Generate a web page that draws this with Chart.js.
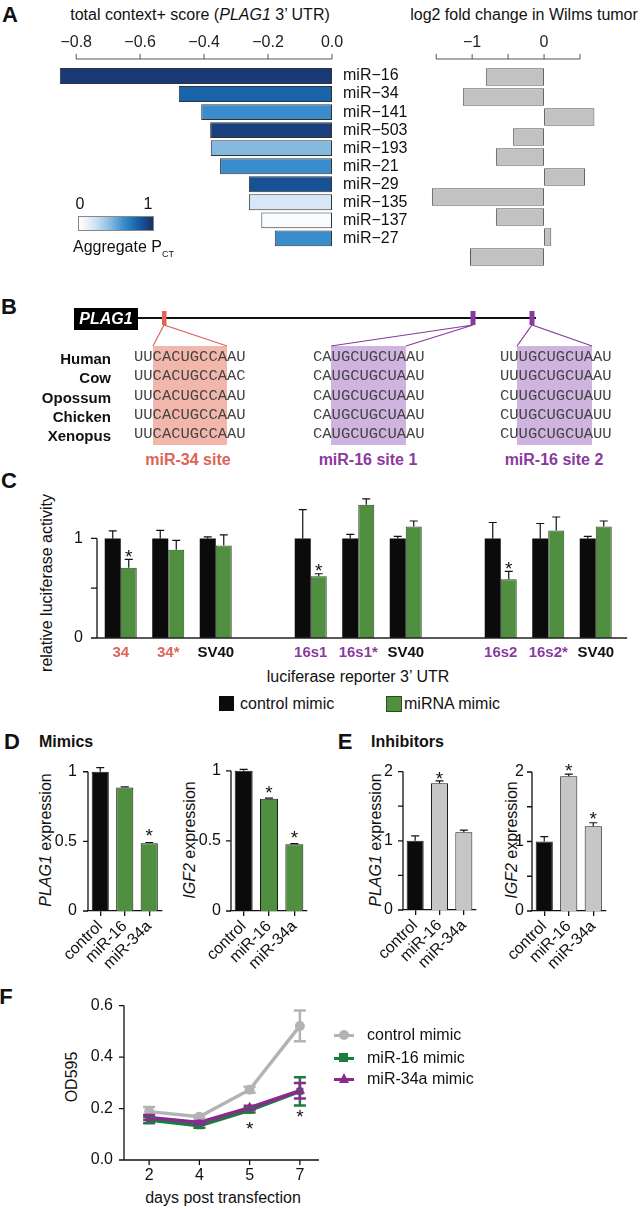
<!DOCTYPE html>
<html>
<head>
<meta charset="utf-8">
<script src="https://cdn.jsdelivr.net/npm/chart.js@4.4.1/dist/chart.umd.min.js"></script>
<style>
  body { margin: 0; background: #fff; }
  #page { position: relative; width: 644px; height: 1209px; overflow: hidden;
          font-family: 'Liberation Sans', Arial, Helvetica, sans-serif; color: #111; }
  #page canvas, #page .t, #page svg, #page .box { position: absolute; }
  .t { white-space: nowrap; line-height: 1; font-size: 16px; }
  .panel { font-size: 22px; font-weight: bold; }
  .b { font-weight: bold; }
  .seq { font-family: 'Liberation Mono', monospace; font-size: 15.5px; color: #444; }
</style>
</head>
<body>
<div id="page"></div>
<script>
// ---- data ----
const mirNames = ['miR\u221216', 'miR\u221234', 'miR\u2212141', 'miR\u2212503', 'miR\u2212193',
                  'miR\u221221', 'miR\u221229', 'miR\u2212135', 'miR\u2212137', 'miR\u221227'];
const contextScore = [-0.851, -0.479, -0.409, -0.381, -0.379, -0.350, -0.260, -0.260, -0.221, -0.179];
const aggregatePct = [0.95, 0.78, 0.60, 0.93, 0.425, 0.60, 0.86, 0.19, 0.03, 0.60];
const wilmsLog2FC = [-0.81, -1.13, 0.70, -0.43, -0.67, 0.57, -1.56, -0.67, 0.10, -1.03];
const scoreTicks = [-0.8, -0.6, -0.4, -0.2, 0];
const foldTicks = [-1.5, -1, -0.5, 0, 0.5];

const reporterLabels = ['34', '34*', 'SV40', '', '16s1', '16s1*', 'SV40', '', '16s2', '16s2*', 'SV40'];
const reporterColors = ['#dd6456', '#dd6456', '#111', '#111', '#8a3a9e', '#8a3a9e', '#111', '#111', '#8a3a9e', '#8a3a9e', '#111'];
const controlLuc    = [1, 1, 1, null, 1, 1, 1, null, 1, 1, 1];
const controlLucErr = [0.075, 0.08, 0.015, null, 0.29, 0.04, 0.02, null, 0.16, 0.15, 0.02];
const mimicLuc      = [0.705, 0.886, 0.93, null, 0.62, 1.337, 1.12, null, 0.59, 1.08, 1.12];
const mimicLucErr   = [0.085, 0.095, 0.105, null, 0.025, 0.06, 0.055, null, 0.08, 0.135, 0.055];
const mimicLucStar  = [1, 0, 0, 0, 1, 0, 0, 0, 1, 0, 0];

const treatments = ['control', 'miR-16', 'miR-34a'];
const plag1Mimic = [1.0, 0.886, 0.486];
const plag1MimicErr = [0.03, 0.005, 0.006];
const plag1MimicStar = [0, 0, 1];
const igf2Mimic = [1.0, 0.80, 0.477];
const igf2MimicErr = [0.01, 0.005, 0.004];
const igf2MimicStar = [0, 1, 1];
const plag1Inhib = [1.0, 1.83, 1.125];
const plag1InhibErr = [0.07, 0.035, 0.03];
const plag1InhibStar = [0, 1, 0];
const igf2Inhib = [1.0, 1.94, 1.22];
const igf2InhibErr = [0.07, 0.03, 0.05];
const igf2InhibStar = [0, 1, 1];

const days = ['2', '4', '5', '7'];
const odControl = [0.188, 0.168, 0.273, 0.521];
const odControlErr = [0.018, 0.006, 0.012, 0.06];
const odMiR16 = [0.155, 0.133, 0.193, 0.267];
const odMiR16Err = [0.012, 0.008, 0.008, 0.055];
const odMiR34a = [0.165, 0.146, 0.203, 0.269];
const odMiR34aErr = [0.01, 0.006, 0.008, 0.03];
const odStars = [null, null, 0.14, 0.186];

const species = ['Human', 'Cow', 'Opossum', 'Chicken', 'Xenopus'];
const site34 = ['UUCACUGCCAAU', 'UUCACUGCCAAC', 'UUCACUGCCAAU', 'UUCACUGCCAAU', 'UUCACUGCCAAU'];
const site16a = ['CAUGCUGCUAAU', 'CAUGCUGCUAAU', 'CAUGCUGCUAAU', 'CAUGCUGCUAAU', 'CAUGCUGCUAAU'];
const site16b = ['UUUGCUGCUAAU', 'UUUGCUGCUAAU', 'CUUGCUGCUAUU', 'CUUGCUGCUAUU', 'CUUGCUGCUAUU'];

// ---- colours ----
const blueStops = [
  [0.0, [255, 255, 255]],
  [0.2, [214, 230, 244]],
  [0.4, [143, 192, 226]],
  [0.6, [58, 141, 204]],
  [0.8, [21, 96, 168]],
  [1.0, [27, 45, 102]]
];
function blueFor(v) {
  for (let i = 1; i < blueStops.length; i++) {
    const [p0, c0] = blueStops[i - 1];
    const [p1, c1] = blueStops[i];
    if (v <= p1) {
      const f = (v - p0) / (p1 - p0);
      return 'rgb(' + c0.map((a, k) => Math.round(a + (c1[k] - a) * f)).join(',') + ')';
    }
  }
  return 'rgb(27,45,102)';
}
const GREEN = '#4f8f3f', BLACK = '#0b0b0b', LIGHT = '#c6c6c6';
const RED = '#dd6456', PURPLE = '#8a3a9e';

// ---- helpers ----
const page = document.getElementById('page');
function text(html, x, y, cls, align, extra) {
  const d = document.createElement('div');
  d.className = 't ' + (cls || '');
  d.innerHTML = html;
  d.style.left = x + 'px';
  d.style.top = y + 'px';
  const tx = align === 'l' ? '0' : align === 'r' ? '-100%' : '-50%';
  d.style.transform = 'translate(' + tx + ', -50%)' + (extra || '');
  page.appendChild(d);
  return d;
}
function vtext(html, x, y, cls) { return text(html, x, y, cls, 'c', ' rotate(-90deg)'); }
function makeCanvas(x, y, w, h) {
  const c = document.createElement('canvas');
  c.width = w; c.height = h;
  c.style.left = x + 'px'; c.style.top = y + 'px';
  page.appendChild(c);
  return c;
}
const fixedTicks = vals => s => { s.ticks = vals.map(v => ({ value: v })); };
const noGrid = { display: false, drawTicks: false };

// ---- plugins ----
const errorBars = {
  id: 'errorBars',
  afterDatasetsDraw(chart) {
    const ctx = chart.ctx;
    chart.data.datasets.forEach((ds, i) => {
      if (!ds.errUp) return;
      const meta = chart.getDatasetMeta(i);
      const ys = chart.scales[meta.yAxisID];
      ctx.save();
      ctx.strokeStyle = ds.errColor || '#111';
      ctx.lineWidth = ds.errWidth || 1.2;
      meta.data.forEach((el, j) => {
        const v = ds.data[j];
        if (v == null || ds.errUp[j] == null) return;
        const x = el.x;
        const top = ys.getPixelForValue(v + ds.errUp[j]);
        const bottom = ds.errDown ? ys.getPixelForValue(v - ds.errDown[j]) : el.y;
        const cap = ds.capHalf || 4;
        ctx.beginPath();
        ctx.moveTo(x, bottom); ctx.lineTo(x, top);
        ctx.moveTo(x - cap, top); ctx.lineTo(x + cap, top);
        if (ds.errDown) { ctx.moveTo(x - cap, bottom); ctx.lineTo(x + cap, bottom); }
        ctx.stroke();
        if (ds.stars && ds.stars[j]) {
          const fs = 19;
          ctx.fillStyle = '#111';
          ctx.font = fs + "px 'Liberation Sans', Arial";
          ctx.textAlign = 'center';
          ctx.textBaseline = 'alphabetic';
          ctx.fillText('*', x, top - (ds.starGap || 4) + 0.4 * fs);
        }
      });
      ctx.restore();
    });
  }
};

const freeStars = {
  id: 'freeStars',
  afterDatasetsDraw(chart, args, opts) {
    if (!opts.values) return;
    const ctx = chart.ctx, xs = chart.scales.x, ys = chart.scales.y, fs = 19;
    ctx.save();
    ctx.fillStyle = '#111';
    ctx.font = fs + "px 'Liberation Sans', Arial";
    ctx.textAlign = 'center';
    opts.values.forEach((v, i) => {
      if (v == null) return;
      ctx.fillText('*', xs.getPixelForValue(i), ys.getPixelForValue(v) + 0.56 * fs);
    });
    ctx.restore();
  }
};

// axis line drawn only over a value span, with its own tick marks
const spanAxis = {
  id: 'spanAxis',
  afterDraw(chart, args, opts) {
    const ctx = chart.ctx, a = chart.chartArea;
    (opts.items || []).forEach(it => {
      const s = chart.scales[it.scale];
      ctx.save();
      ctx.strokeStyle = it.color || '#111';
      ctx.lineWidth = it.width || 1.3;
      ctx.beginPath();
      if (s.isHorizontal()) {
        const y = it.side === 'top' ? a.top - (it.gap || 0) : a.bottom + (it.gap || 0);
        const dir = it.side === 'top' ? -1 : 1;
        ctx.moveTo(s.getPixelForValue(it.from), y);
        ctx.lineTo(s.getPixelForValue(it.to), y);
        (it.ticks || []).forEach(v => {
          const x = s.getPixelForValue(v);
          ctx.moveTo(x, y); ctx.lineTo(x, y + dir * it.tickLen);
        });
      } else {
        const x = a.left - (it.gap || 0);
        ctx.moveTo(x, s.getPixelForValue(it.from));
        ctx.lineTo(x, s.getPixelForValue(it.to));
        (it.ticks || []).forEach(v => {
          const y = s.getPixelForValue(v);
          ctx.moveTo(x, y); ctx.lineTo(x - it.tickLen, y);
        });
      }
      ctx.stroke();
      ctx.restore();
    });
  }
};

Chart.register(errorBars, freeStars, spanAxis);
Chart.defaults.font.family = "'Liberation Sans', Arial, Helvetica, sans-serif";
Chart.defaults.font.size = 16;
Chart.defaults.color = '#111';
Chart.defaults.animation = false;
Chart.defaults.responsive = false;
Chart.defaults.maintainAspectRatio = false;
Chart.defaults.devicePixelRatio = 1;
Chart.defaults.plugins.legend.display = false;
Chart.defaults.plugins.tooltip.enabled = false;

// ---- panel B drawing (schematic) ----
page.insertAdjacentHTML('beforeend', `
<svg width="644" height="1209" style="left:0;top:0">
  <rect x="153" y="346" width="74" height="99" fill="#f2b6ab"/>
  <rect x="331" y="346" width="75" height="99" fill="#cfb4df"/>
  <rect x="517" y="346" width="75" height="99" fill="#cfb4df"/>
  <line x1="138" y1="318" x2="536" y2="318" stroke="#111" stroke-width="2"/>
  <rect x="74" y="308" width="64" height="22" fill="#000"/>
  <rect x="162" y="311" width="4.5" height="14" fill="${RED}"/>
  <rect x="470.5" y="311" width="5" height="14" fill="${PURPLE}"/>
  <rect x="529.5" y="311" width="5" height="14" fill="${PURPLE}"/>
  <polyline points="153,346 164,325 227,346" fill="none" stroke="${RED}" stroke-width="1.2"/>
  <polyline points="331,346 473,325 406,346" fill="none" stroke="${PURPLE}" stroke-width="1.2"/>
  <polyline points="517,346 532,325 592,346" fill="none" stroke="${PURPLE}" stroke-width="1.2"/>
</svg>`);

// ---- panel A ----
text('A', 10, 15, 'panel');
text('total context+ score (<i>PLAG1</i> 3\u2019 UTR)', 200, 15);
text('log2 fold change in Wilms tumor', 524, 15);

new Chart(makeCanvas(0, 0, 420, 268), {
  type: 'bar',
  data: {
    labels: mirNames,
    datasets: [{
      data: contextScore,
      backgroundColor: aggregatePct.map(blueFor),
      borderColor: '#333', borderWidth: 1, borderSkipped: false,
      barPercentage: 0.88, categoryPercentage: 1
    }]
  },
  options: {
    indexAxis: 'y',
    layout: { padding: { left: 57, right: 0, top: 0, bottom: 1 } },
    scales: {
      x: {
        position: 'top', min: -0.86, max: 0,
        grid: noGrid, border: { display: false },
        afterBuildTicks: fixedTicks(scoreTicks),
        ticks: { padding: 15, color: '#222', callback: v => v === 0 ? '0.0' : '\u2212' + Math.abs(v).toFixed(1) },
        afterFit: s => { s.height = 67; }
      },
      y: {
        position: 'right', grid: noGrid, border: { display: false },
        ticks: { padding: 11, autoSkip: false },
        afterFit: s => { s.width = 88; }
      }
    },
    plugins: { spanAxis: { items: [{ scale: 'x', side: 'top', gap: 8, from: -0.8, to: 0, ticks: scoreTicks, tickLen: 5, color: '#555', width: 1 }] } }
  }
});

new Chart(makeCanvas(420, 0, 224, 268), {
  type: 'bar',
  data: {
    labels: mirNames,
    datasets: [{
      data: wilmsLog2FC, backgroundColor: '#c2c2c2',
      borderColor: '#555', borderWidth: 1, borderSkipped: false,
      barPercentage: 0.88, categoryPercentage: 1
    }]
  },
  options: {
    indexAxis: 'y',
    layout: { padding: { left: 9, right: 46, top: 0, bottom: 1 } },
    scales: {
      x: {
        position: 'top', min: -1.6, max: 0.75,
        grid: noGrid, border: { display: false },
        afterBuildTicks: fixedTicks(foldTicks),
        ticks: { padding: 15, color: '#222', callback: v => v === -1 ? '\u22121' : v === 0 ? '0' : '' },
        afterFit: s => { s.height = 67; }
      },
      y: { display: false }
    },
    plugins: { spanAxis: { items: [{ scale: 'x', side: 'top', gap: 8, from: -1.5, to: 0.5, ticks: foldTicks, tickLen: 5, color: '#555', width: 1 }] } }
  }
});

// colour key
text('0', 80, 204);
text('1', 148, 204);
const key = document.createElement('div');
key.className = 'box';
key.style.cssText = 'left:78px;top:216px;width:74px;height:13px;border:1px solid #888;background:linear-gradient(to right,' +
  blueStops.map(([p, c]) => 'rgb(' + c.join(',') + ') ' + (p * 100) + '%').join(',') + ')';
page.appendChild(key);
text('Aggregate P<span style="font-size:9px;position:relative;top:5px">CT</span>', 73, 247, '', 'l');

// ---- panel B text ----
text('B', 9, 307, 'panel');
text('PLAG1', 106, 319, 'b', 'c').style.cssText += ';color:#fff;font-style:italic;';
const rowsY = [358, 377, 397, 416, 435];
species.forEach((s, i) => {
  text(s, 111, rowsY[i], 'b', 'r').style.fontSize = '15px';
  text(site34[i], 134, rowsY[i], 'seq', 'l');
  text(site16a[i], 313, rowsY[i], 'seq', 'l');
  text(site16b[i], 500, rowsY[i], 'seq', 'l');
});
text('miR-34 site', 188, 460, 'b').style.color = RED;
text('miR-16 site 1', 368, 460, 'b').style.color = PURPLE;
text('miR-16 site 2', 554, 460, 'b').style.color = PURPLE;

// ---- panel C ----
text('C', 9, 481, 'panel');
vtext('relative luciferase activity', 47, 583);
text('luciferase reporter 3\u2019 UTR', 358, 677);

new Chart(makeCanvas(0, 470, 644, 200), {
  type: 'bar',
  data: {
    labels: reporterLabels,
    datasets: [
      { data: controlLuc, errUp: controlLucErr, backgroundColor: BLACK, borderWidth: 0, capHalf: 4 },
      { data: mimicLuc, errUp: mimicLucErr, stars: mimicLucStar, starGap: 4, backgroundColor: GREEN,
        borderColor: '#2b4a24', borderWidth: 1, capHalf: 4 }
    ]
  },
  options: {
    layout: { padding: { left: 0, right: 24.5, top: 7.5, bottom: 0 } },
    datasets: { bar: { categoryPercentage: 0.674, barPercentage: 1 } },
    scales: {
      x: {
        grid: noGrid, border: { display: false },
        ticks: { padding: 6, autoSkip: false, maxRotation: 0, font: { size: 15, weight: 'bold' },
                 color: c => reporterColors[c.index] },
        afterFit: s => { s.height = 32; }
      },
      y: {
        min: 0, max: 1.45, grid: noGrid, border: { display: false },
        afterBuildTicks: fixedTicks([0, 0.5, 1]),
        ticks: { padding: 14, callback: v => v === 0.5 ? '' : String(v) },
        afterFit: s => { s.width = 97; }
      }
    },
    plugins: { spanAxis: { items: [
      { scale: 'y', from: 0, to: 1, ticks: [0, 0.5, 1], tickLen: 6 },
      { scale: 'x', side: 'bottom', from: -0.5, to: 10.66, width: 1.5, color: '#222' }
    ] } }
  }
});

// legend C
const sqA = document.createElement('div');
sqA.className = 'box';
sqA.style.cssText = 'left:219px;top:696px;width:15px;height:15px;background:' + BLACK;
page.appendChild(sqA);
text('control mimic', 240, 704, '', 'l');
const sqB = document.createElement('div');
sqB.className = 'box';
sqB.style.cssText = 'left:386px;top:696px;width:14px;height:14px;border:1px solid #2b4a24;background:' + GREEN;
page.appendChild(sqB);
text('miRNA mimic', 404, 704, '', 'l');

// ---- panels D and E ----
text('D', 12, 742, 'panel');
text('Mimics', 39, 742, 'b', 'l');
text('E', 345, 742, 'panel');
text('Inhibitors', 371, 742, 'b', 'l');
vtext('<i>PLAG1</i> expression', 46, 840);
vtext('<i>IGF2</i> expression', 190, 840);
vtext('<i>PLAG1</i> expression', 376, 840);
vtext('<i>IGF2</i> expression', 512, 840);

function exprChart(left, width, p) {
  const top = 740, height = 240;
  const padTop = p.bottom - p.max * p.unit;
  return new Chart(makeCanvas(left, top, width, height), {
    type: 'bar',
    data: {
      labels: treatments,
      datasets: [{
        data: p.values, errUp: p.err, stars: p.stars, starGap: p.starGap, capHalf: 4,
        backgroundColor: p.colors, borderColor: '#1a1a1a', borderWidth: 1,
        barPercentage: p.barPct, categoryPercentage: 1
      }]
    },
    options: {
      layout: { padding: { left: 0, right: p.padRight, top: padTop, bottom: 0 } },
      scales: {
        x: {
          grid: { display: true, drawOnChartArea: false, drawTicks: true, tickLength: 5, offset: false, color: '#111', lineWidth: 1.3 },
          border: { display: true, color: '#111', width: 1.3 },
          ticks: { autoSkip: false, minRotation: 45, maxRotation: 45, padding: 1 },
          afterFit: s => { s.height = height - p.bottom; }
        },
        y: {
          min: 0, max: p.max, grid: noGrid, border: { display: false },
          afterBuildTicks: fixedTicks(p.ticks),
          ticks: { padding: p.labelPad, callback: p.fmt },
          afterFit: s => { s.width = p.axisW; }
        }
      },
      plugins: { spanAxis: { items: [{ scale: 'y', from: 0, to: p.ticks[p.ticks.length - 1], ticks: p.ticks, tickLen: 5 }] } }
    }
  });
}

const mimicColors = [BLACK, GREEN, GREEN];
const inhibColors = [BLACK, LIGHT, LIGHT];
const fmtHalf = v => String(v);
const fmtWhole = v => Number.isInteger(v) ? String(v) : '';

exprChart(0, 175, { values: plag1Mimic, err: plag1MimicErr, stars: plag1MimicStar, starGap: 8, colors: mimicColors,
  bottom: 171, unit: 140.5, max: 1.08, padRight: 13.5, axisW: 88, barPct: 0.7, ticks: [0, 0.5, 1], fmt: fmtHalf, labelPad: 11 });
exprChart(170, 170, { values: igf2Mimic, err: igf2MimicErr, stars: igf2MimicStar, starGap: 7, colors: mimicColors,
  bottom: 171, unit: 140.5, max: 1.08, padRight: 33, axisW: 61, barPct: 0.71, ticks: [0, 0.5, 1], fmt: fmtHalf, labelPad: 10 });
exprChart(330, 155, { values: plag1Inhib, err: plag1InhibErr, stars: plag1InhibStar, starGap: 4, colors: inhibColors,
  bottom: 170, unit: 69.2, max: 2.12, padRight: 9, axisW: 73, barPct: 0.7, ticks: [0, 0.5, 1, 1.5, 2], fmt: fmtWhole, labelPad: 10 });
exprChart(470, 174, { values: igf2Inhib, err: igf2InhibErr, stars: igf2InhibStar, starGap: 5, colors: inhibColors,
  bottom: 171, unit: 69.5, max: 2.12, padRight: 38.5, axisW: 62, barPct: 0.7, ticks: [0, 0.5, 1, 1.5, 2], fmt: fmtWhole, labelPad: 8 });

// ---- panel F ----
text('F', 6, 997, 'panel');
vtext('OD595', 72, 1077);
text('days post transfection', 223, 1198);

const GRAY = '#b3b3b3', DGREEN = '#1e7b40', MAGENTA = '#8b2a8e';
function odSeries(values, err, color, style, radius, order) {
  return {
    data: values, errUp: err, errDown: err, errColor: color, errWidth: 2.5, capHalf: 6,
    borderColor: color, backgroundColor: color, borderWidth: 3.5,
    pointStyle: style, pointRadius: radius, pointBorderWidth: 0, order: order
  };
}
new Chart(makeCanvas(0, 985, 340, 224), {
  type: 'line',
  data: {
    labels: days,
    datasets: [
      odSeries(odControl, odControlErr, GRAY, 'circle', 5, 3),
      odSeries(odMiR16, odMiR16Err, DGREEN, 'rect', 5, 2),
      odSeries(odMiR34a, odMiR34aErr, MAGENTA, 'triangle', 6, 1)
    ]
  },
  options: {
    layout: { padding: { left: 0, right: 15, top: 17, bottom: 0 } },
    scales: {
      x: {
        offset: true, grid: noGrid, border: { display: false },
        ticks: { padding: 6 },
        afterFit: s => { s.height = 49; }
      },
      y: {
        min: 0, max: 0.6, grid: noGrid, border: { display: false },
        afterBuildTicks: fixedTicks([0, 0.2, 0.4, 0.6]),
        ticks: { padding: 11, callback: v => v.toFixed(1) },
        afterFit: s => { s.width = 124; }
      }
    },
    plugins: {
      freeStars: { values: odStars },
      spanAxis: { items: [
        { scale: 'y', from: 0, to: 0.6, ticks: [0, 0.2, 0.4, 0.6], tickLen: 5 },
        { scale: 'x', side: 'bottom', from: -0.5, to: 3.38, ticks: [0, 1, 2, 3], tickLen: 5 }
      ] }
    }
  }
});

// legend F
const fLegend = [
  ['control mimic', GRAY, 'border-radius:50%;width:10px;height:10px;'],
  ['miR-16 mimic', DGREEN, 'width:9px;height:9px;'],
  ['miR-34a mimic', MAGENTA, 'tri']
];
fLegend.forEach(([label, color, shape], i) => {
  const y = [1035, 1058, 1079][i];
  const ln = document.createElement('div');
  ln.className = 'box';
  ln.style.cssText = 'left:334px;top:' + (y - 1.5) + 'px;width:20px;height:3.5px;background:' + color;
  page.appendChild(ln);
  const mk = document.createElement('div');
  mk.className = 'box';
  if (shape === 'tri') {
    mk.style.cssText = 'left:339px;top:' + (y - 6) + 'px;width:0;height:0;border-left:5.5px solid transparent;border-right:5.5px solid transparent;border-bottom:10px solid ' + color;
  } else {
    mk.style.cssText = shape + 'left:' + (344 - 5) + 'px;top:' + (y - 5) + 'px;background:' + color;
  }
  page.appendChild(mk);
  text(label, 367, y, '', 'l');
});
</script>
</body>
</html>
